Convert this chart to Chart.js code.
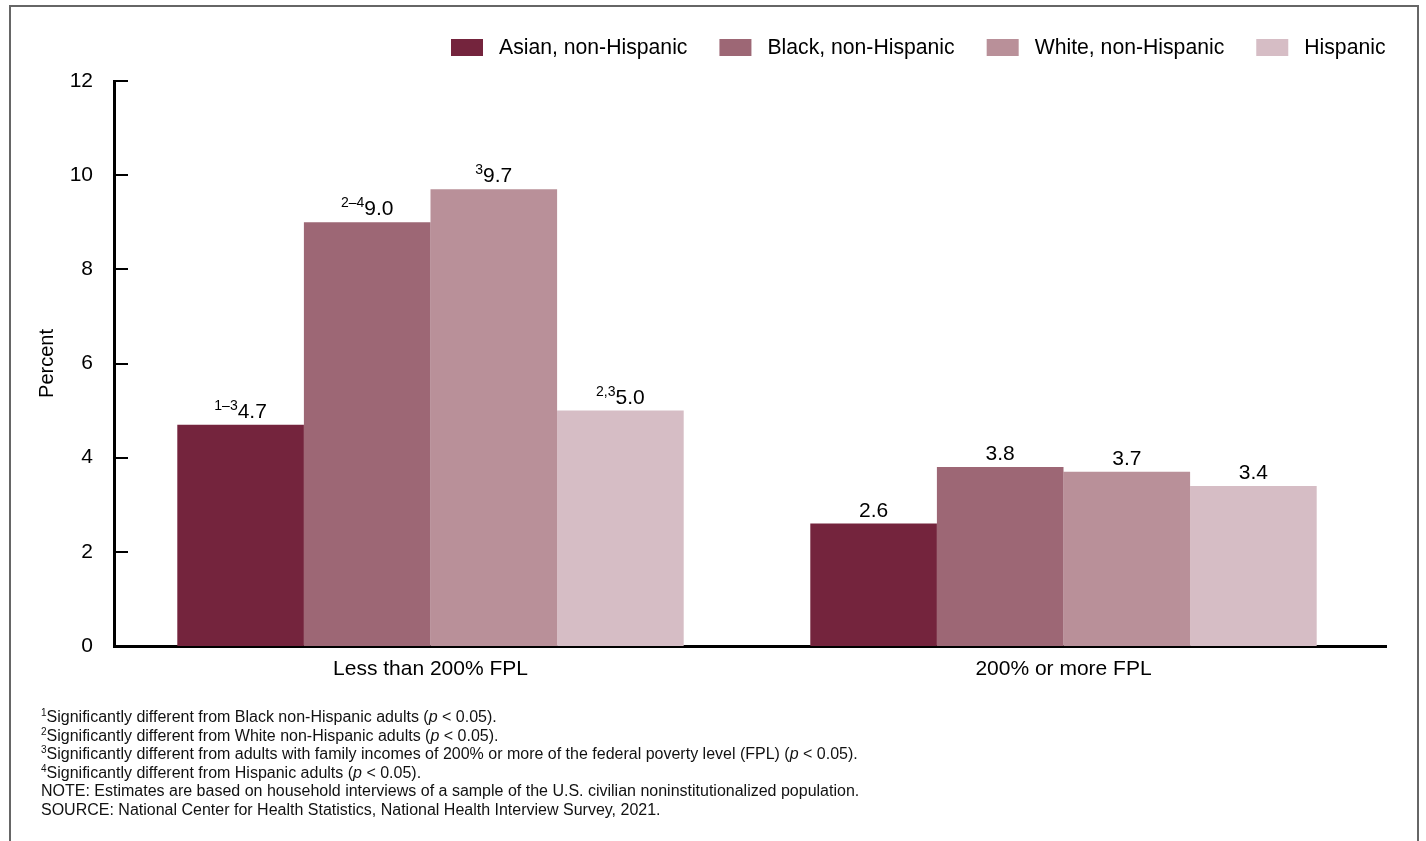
<!DOCTYPE html>
<html>
<head>
<meta charset="utf-8">
<script src="https://cdn.jsdelivr.net/npm/chart.js@4.4.1/dist/chart.umd.min.js"></script>
<style>
  body { margin: 0; background: #fff; font-family: "Liberation Sans", Arial, sans-serif; }
  #wrap { position: relative; width: 1426px; height: 841px; overflow: hidden; }
  #frame { position: absolute; left: 9px; top: 5px; width: 1406px; height: 900px; border: 2px solid #666; border-bottom: none; }
  #chart { position: absolute; left: 0; top: 0; }
  #notes { position: absolute; left: 41px; top: 708px; font-size: 16px; line-height: 18.6px; color: #111; white-space: nowrap; }
  #notes sup { font-size: 10px; line-height: 0; position: relative; top: -6px; vertical-align: baseline; }
</style>
</head>
<body>
<div id="wrap">
  <div id="frame"></div>
  <canvas id="chart" width="1426" height="841"></canvas>
  <div id="notes">
    <div><sup>1</sup>Significantly different from Black non-Hispanic adults (<i>p</i> &lt; 0.05).</div>
    <div><sup>2</sup>Significantly different from White non-Hispanic adults (<i>p</i> &lt; 0.05).</div>
    <div><sup>3</sup>Significantly different from adults with family incomes of 200% or more of the federal poverty level (FPL) (<i>p</i> &lt; 0.05).</div>
    <div><sup>4</sup>Significantly different from Hispanic adults (<i>p</i> &lt; 0.05).</div>
    <div>NOTE: Estimates are based on household interviews of a sample of the U.S. civilian noninstitutionalized population.</div>
    <div>SOURCE: National Center for Health Statistics, National Health Interview Survey, 2021.</div>
  </div>
</div>
<script>
'use strict'

// data
var categories = ['Less than 200% FPL', '200% or more FPL'];
var groups = ['Asian, non-Hispanic', 'Black, non-Hispanic', 'White, non-Hispanic', 'Hispanic'];
var asian = [4.7, 2.6];
var black = [9.0, 3.8];
var white = [9.7, 3.7];
var hispanic = [5.0, 3.4];
// superscript notes shown before each value
var asianNotes = ['1\u20133', ''];
var blackNotes = ['2\u20134', ''];
var whiteNotes = ['3', ''];
var hispanicNotes = ['2,3', ''];
var yTicks = [0, 2, 4, 6, 8, 10, 12];

var colors = ['#74243d', '#9d6775', '#b99099', '#d6bdc5'];
var FONT = '"Liberation Sans", Arial, sans-serif';

Chart.defaults.font.family = FONT;
Chart.defaults.color = '#000';

var series = [asian, black, white, hispanic];
var notes = [asianNotes, blackNotes, whiteNotes, hispanicNotes];

// value labels with superscript notes
var valueLabels = {
    id: 'valueLabels',
    afterDatasetsDraw: function(chart) {
        var ctx = chart.ctx;
        ctx.save();
        ctx.fillStyle = '#000';
        ctx.textBaseline = 'alphabetic';
        ctx.textAlign = 'left';
        chart.data.datasets.forEach(function(ds, i) {
            chart.getDatasetMeta(i).data.forEach(function(bar, j) {
                var val = ds.data[j].toFixed(1);
                var sup = notes[i][j];
                ctx.font = '14px ' + FONT;
                var ws = sup ? ctx.measureText(sup).width : 0;
                ctx.font = '21px ' + FONT;
                var wv = ctx.measureText(val).width;
                var x0 = bar.x - (ws + wv) / 2;
                var by = bar.y - 7;
                if (sup) {
                    ctx.font = '14px ' + FONT;
                    ctx.fillText(sup, x0, by - 8);
                }
                ctx.font = '21px ' + FONT;
                ctx.fillText(val, x0 + ws, by);
            });
        });
        ctx.restore();
    }
};

// inward ticks on the y axis, and the little overhang of the x axis
var axisMarks = {
    id: 'axisMarks',
    afterDraw: function(chart) {
        var ctx = chart.ctx;
        var y = chart.scales.y;
        var area = chart.chartArea;
        ctx.save();
        ctx.strokeStyle = '#000';
        ctx.lineWidth = 2;
        yTicks.forEach(function(t) {
            var py = Math.round(y.getPixelForValue(t));
            ctx.beginPath();
            ctx.moveTo(area.left, py);
            ctx.lineTo(area.left + 14, py);
            ctx.stroke();
        });
        ctx.lineWidth = 3;
        ctx.beginPath();
        ctx.moveTo(area.right - 1, Math.round(area.bottom) + 0.5);
        ctx.lineTo(area.right + 7, Math.round(area.bottom) + 0.5);
        ctx.stroke();
        ctx.restore();
    }
};

// legend across the top
var topLegend = {
    id: 'topLegend',
    afterDraw: function(chart) {
        var ctx = chart.ctx;
        ctx.save();
        ctx.font = '21.2px ' + FONT;
        ctx.textBaseline = 'middle';
        ctx.textAlign = 'left';
        var x = 451;
        chart.data.datasets.forEach(function(ds) {
            ctx.fillStyle = ds.backgroundColor;
            ctx.fillRect(x, 39, 32, 17);
            ctx.fillStyle = '#000';
            ctx.fillText(ds.label, x + 48, 48);
            x += 48 + ctx.measureText(ds.label).width + 32;
        });
        ctx.restore();
    }
};

var datasets = groups.map(function(g, i) {
    return {
        label: g,
        data: series[i],
        backgroundColor: colors[i],
        borderWidth: 0,
        categoryPercentage: 0.8,
        barPercentage: 1.0
    };
});

var ctx = document.getElementById('chart');
var myChart = new Chart(ctx, {
    type: 'bar',
    data: {
        labels: categories,
        datasets: datasets
    },
    options: {
        responsive: false,
        animation: false,
        layout: {
            padding: { left: 35, right: 46, top: 81, bottom: 145 }
        },
        plugins: {
            legend: { display: false },
            tooltip: { enabled: false }
        },
        scales: {
            x: {
                grid: { display: false, drawTicks: false },
                border: { display: true, color: '#000', width: 3 },
                ticks: { font: { size: 21 }, color: '#000', padding: 11 },
                afterFit: function(s) { s.height = 50; }
            },
            y: {
                min: 0,
                max: 12,
                afterBuildTicks: function(s) {
                    s.ticks = yTicks.map(function(v) { return { value: v }; });
                },
                grid: { display: false, drawTicks: false },
                border: { display: true, color: '#000', width: 3 },
                ticks: { font: { size: 21 }, color: '#000', padding: 21 },
                title: {
                    display: true,
                    text: 'Percent',
                    font: { size: 20 },
                    color: '#000',
                    padding: { top: 0, bottom: 0 }
                },
                afterFit: function(s) { s.width = 79; }
            }
        }
    },
    plugins: [valueLabels, axisMarks, topLegend]
});
</script>
</body>
</html>
